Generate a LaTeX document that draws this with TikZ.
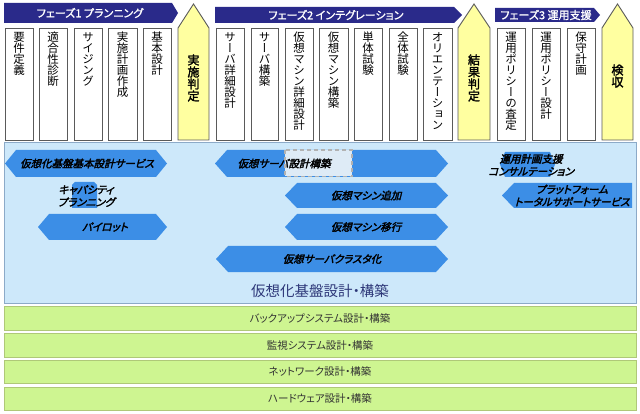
\documentclass[tikz,border=0pt]{standalone}
\usepackage{fontspec}
\setmainfont{Noto Sans CJK JP}
\newfontfamily\jpv[RawFeature=+vert]{Noto Sans CJK JP}
\newfontfamily\jpvb[RawFeature=+vert,FakeBold=2]{Noto Sans CJK JP}
\newfontfamily\jpp[RawFeature=+palt]{Noto Sans CJK JP}
\newfontfamily\jpbanner[RawFeature=+palt,FakeBold=1.2]{Noto Sans CJK JP}
\newfontfamily\jpit[RawFeature=+palt,FakeSlant=0.25,FakeBold=2.5]{Noto Sans CJK JP}
\definecolor{navy}{RGB}{42,42,138}
\definecolor{ylw}{RGB}{255,255,160}
\definecolor{hexblue}{RGB}{60,142,230}
\definecolor{panel}{RGB}{205,232,250}
\definecolor{panelline}{RGB}{140,170,200}
\definecolor{grn}{RGB}{206,245,145}
\definecolor{grnline}{RGB}{175,200,120}
\definecolor{boxline}{RGB}{90,90,90}
\definecolor{titlec}{RGB}{45,55,120}
\definecolor{dashfill}{RGB}{222,235,246}
\newcommand\hexa[5]{\fill[hexblue] (#1,{(#3+#4)/2}) -- (#1+#5,#3) -- (#2-#5,#3) -- (#2,{(#3+#4)/2}) -- (#2-#5,#4) -- (#1+#5,#4) -- cycle;}
\newcommand\colbox[2]{\filldraw[fill=white,draw=boxline,line width=0.9pt] (#1,28) rectangle (#2,140);}
\newcommand\ybox[2]{\filldraw[fill=ylw,draw=boxline,line width=0.9pt] (#1,140) -- (#1,28) -- ({(#1+#2)/2},4) -- (#2,28) -- (#2,140) -- cycle;}
\tikzset{
  vtxt/.style={anchor=north,align=center,inner sep=0pt,font=\jpv\fontsize{11.5}{11}\selectfont},
  ytxt/.style={anchor=center,align=center,inner sep=0pt,font=\jpvb\fontsize{12}{12}\selectfont},
  bantxt/.style={text=white,inner sep=0pt,font=\jpbanner\fontsize{11}{12}\selectfont},
  hextxt/.style={inner sep=0pt,align=center,font=\jpit\fontsize{10.5}{12.5}\selectfont},
  bandtxt/.style={inner sep=0pt,text=black!80,font=\jpp\fontsize{10.5}{13}\selectfont},
}
\begin{document}
\begin{tikzpicture}[x=1pt,y=-1pt]
\useasboundingbox (0,0) rectangle (640,414);
\fill[white] (0,0) rectangle (640,414);
% banners
\fill[navy] (4,3) -- (172,3) -- (178,13) -- (172,23) -- (4,23) -- cycle;
\node[bantxt] (p1) at (90,13) {フェーズ1 プランニング};
\fill[navy] (215,7) -- (454,7) -- (462,15) -- (454,23) -- (215,23) -- cycle;
\node[bantxt] (p2) at (336,15) {フェーズ2 インテグレーション};
\fill[navy] (495,8) -- (594,8) -- (600,15) -- (594,22) -- (495,22) -- cycle;
\node[bantxt] (p3) at (546,15) {フェーズ3 運用支援};
% columns
\colbox{5}{33}\colbox{39}{67}\colbox{74}{102}\colbox{108}{137}\colbox{143}{171}
\ybox{178}{209}
\colbox{216}{244}\colbox{251}{278}\colbox{285}{313}\colbox{319}{348}\colbox{354}{382}\colbox{389}{417}\colbox{423}{452}
\ybox{458}{490}
\colbox{497}{525}\colbox{532}{560}\colbox{567}{595}
\ybox{602}{633}
\node[vtxt] (c1) at (19,32) {要\\件\\定\\義};
\node[vtxt] (c2) at (53,32) {適\\合\\性\\診\\断};
\node[vtxt] (c3) at (88,32) {サ\\イ\\ジ\\ン\\グ};
\node[vtxt] (c4) at (122.5,32) {実\\施\\計\\画\\作\\成};
\node[vtxt] (c5) at (157,32) {基\\本\\設\\計};
\node[ytxt] (y1) at (193.5,78) {実\\施\\判\\定};
\node[vtxt] (c6) at (230,32) {サ\\ー\\バ\\詳\\細\\設\\計};
\node[vtxt] (c7) at (264.5,32) {サ\\ー\\バ\\構\\築};
\node[vtxt] (c8) at (299,32) {仮\\想\\マ\\シ\\ン\\詳\\細\\設\\計};
\node[vtxt] (c9) at (333.5,32) {仮\\想\\マ\\シ\\ン\\構\\築};
\node[vtxt] (c10) at (368,32) {単\\体\\試\\験};
\node[vtxt] (c11) at (403,32) {全\\体\\試\\験};
\node[vtxt] (c12) at (437.5,32) {オ\\リ\\エ\\ン\\テ\\ー\\シ\\ョ\\ン};
\node[ytxt] (y2) at (474,78) {結\\果\\判\\定};
\node[vtxt] (c13) at (511,32) {運\\用\\ポ\\リ\\シ\\ー\\の\\査\\定};
\node[vtxt] (c14) at (546,32) {運\\用\\ポ\\リ\\シ\\ー\\設\\計};
\node[vtxt] (c15) at (581,32) {保\\守\\計\\画};
\node[ytxt] (y3) at (617.5,76) {検\\収};
% panel
\filldraw[fill=panel,draw=panelline,line width=0.8pt] (4,142) rectangle (636,303);
\hexa{5}{167}{150}{177}{11}
\node[hextxt] (h1) at (87,163.5) {仮想化基盤基本設計サービス};
\fill[hexblue] (72,185) -- (75,182) -- (94,182) -- (97,185) -- (97,208) -- (72,208) -- cycle;
\node[hextxt] (h2) at (86,196) {キャパシティ\\プランニング};
\hexa{38}{167}{214}{240}{11}
\node[hextxt] (h3) at (105,227) {パイロット};
\hexa{215}{448}{150}{177}{12}
\filldraw[fill=dashfill,draw=black!30,line width=1.3pt,dash pattern=on 4pt off 3pt] (285,150) rectangle (352,176.5);
\node[hextxt] (h4) at (284,163.5) {仮想サーバ設計構築};
\hexa{285}{448}{183}{208}{12}
\node[hextxt] (h5) at (366,195.5) {仮想マシン追加};
\hexa{285}{448}{214}{240}{12}
\node[hextxt] (h6) at (366,227) {仮想マシン移行};
\hexa{216}{448}{246}{272}{12}
\node[hextxt] (h7) at (332,259) {仮想サーバクラスタ化};
\hexa{500}{555}{152}{177}{5}
\node[hextxt] (h8) at (531,165) {運用計画支援\\コンサルテーション};
\fill[hexblue] (502,195.5) -- (514,183) -- (632,183) -- (632,208) -- (514,208) -- cycle;
\node[hextxt] (h9) at (572,195.5) {プラットフォーム\\トータルサポートサービス};
\node[text=titlec,inner sep=0pt,font=\jpp\fontsize{14.5}{16}\selectfont] (title) at (320,291) {仮想化基盤設計・構築};
% green bands
\filldraw[fill=grn,draw=grnline,line width=0.8pt] (4,306) rectangle (636,330);
\node[bandtxt] (g1) at (320,318) {バックアップシステム設計・構築};
\filldraw[fill=grn,draw=grnline,line width=0.8pt] (4,333) rectangle (636,357);
\node[bandtxt] (g2) at (320,345) {監視システム設計・構築};
\filldraw[fill=grn,draw=grnline,line width=0.8pt] (4,360) rectangle (636,383);
\node[bandtxt] (g3) at (320,371.5) {ネットワーク設計・構築};
\filldraw[fill=grn,draw=grnline,line width=0.8pt] (4,387) rectangle (636,410);
\node[bandtxt] (g4) at (320,398.5) {ハードウェア設計・構築};
\end{tikzpicture}
\end{document}
